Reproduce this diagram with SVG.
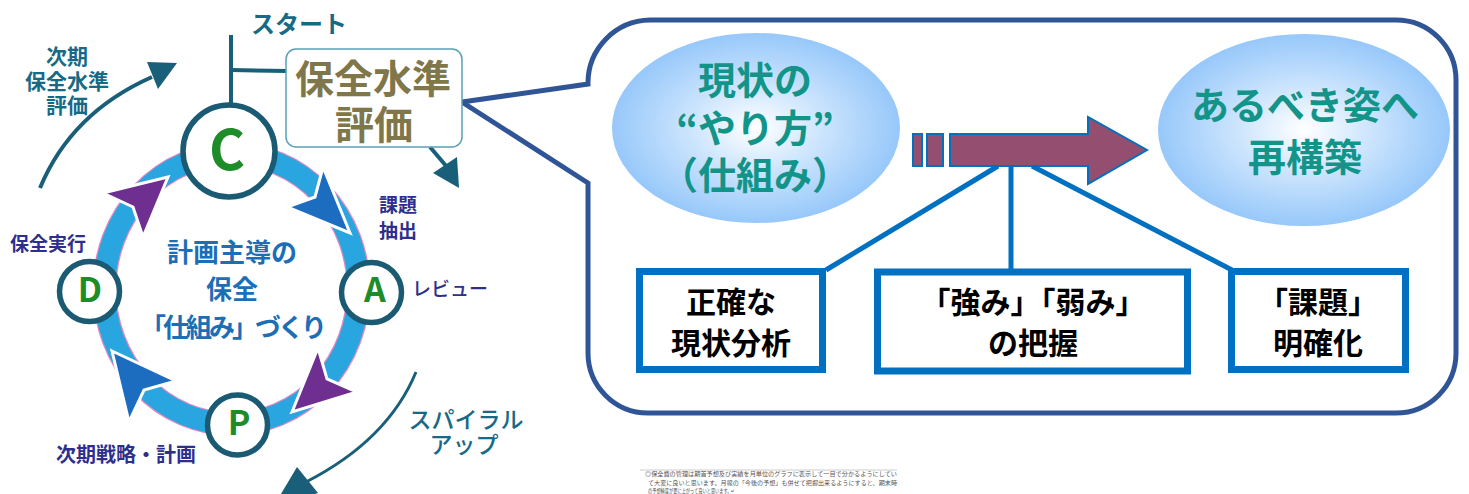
<svg xmlns="http://www.w3.org/2000/svg" width="1469" height="494" viewBox="0 0 1469 494">
<defs>
<radialGradient id="eg" cx="50%" cy="50%" r="50%">
<stop offset="0" stop-color="#ffffff"/>
<stop offset="0.45" stop-color="#cde5fd"/>
<stop offset="1" stop-color="#97c8fa"/>
</radialGradient>
<style>
text{font-family:"Noto Sans CJK JP","Noto Sans",sans-serif;}
.teal{fill:#176a85;font-weight:700;text-anchor:middle}
.navy{fill:#2e2f8c;font-weight:700}
.ctr{fill:#1c6eb6;font-weight:700;font-size:26px;text-anchor:middle}
.lt{fill:#1f8c2a;font-weight:700;text-anchor:middle}
.pc{fill:#fff;stroke:#1a5a73;stroke-width:5.5}
.ell{fill:#139488;font-weight:700;font-size:38px;text-anchor:middle}
.bx{fill:#fff;stroke:#0070c0;stroke-width:7}
.bt{fill:#000;font-weight:700;font-size:30px;text-anchor:middle}
.con{stroke:#0070c0;stroke-width:5;fill:none}
.dk{stroke:#1a5f7a;fill:none}
.dkf{fill:#1a5f7a}
.ah{stroke:#fff;stroke-width:3;stroke-linejoin:miter}
.arw{fill:#944e6f;stroke:#0070c0;stroke-width:2}
.note{fill:#555;font-size:6px}
</style>
</defs>
<rect width="1469" height="494" fill="#fff"/>

<g id="callout">
<path d="M650,20 H1396 A60,60 0 0 1 1456,80 V353 A60,60 0 0 1 1396,413 H648 A60,60 0 0 1 588,353 V183 L462,102 L588,84 A63,63 0 0 1 650,20 Z" fill="none" stroke="#2f5597" stroke-width="5" stroke-linejoin="miter"/>
</g>

<g id="connectors">
<line class="con" x1="998" y1="166" x2="826" y2="270"/>
<line class="con" x1="1011" y1="166" x2="1011" y2="270"/>
<line class="con" x1="1032" y1="166" x2="1232" y2="270"/>
<line class="dk" x1="231" y1="35" x2="231" y2="104" stroke-width="4"/>
<line class="dk" x1="231" y1="70" x2="287" y2="71" stroke-width="4"/>
<path class="dk" d="M40,188 C62,135 100,100 152,77" stroke-width="4"/>
<polygon class="dkf" points="177,63 147,62 158,89"/>
<line class="dk" x1="430" y1="147" x2="447" y2="167" stroke-width="4"/>
<polygon class="dkf" points="459,188 433,173 457,157"/>
<path class="dk" d="M416,372 Q388,440 306,482" stroke-width="3"/>
<polygon class="dkf" points="272,509 297,467 318,493"/>
</g>

<g id="ellipse-current">
<ellipse cx="756" cy="128" rx="144" ry="95" fill="url(#eg)"/>
<text class="ell" x="755" y="94">現状の</text>
<text class="ell" x="755" y="142">“やり方”</text>
<text class="ell" x="755" y="189">（仕組み）</text>
</g>

<g id="ellipse-ideal">
<ellipse cx="1304" cy="130" rx="146" ry="96" fill="url(#eg)"/>
<text class="ell" x="1305" y="119" font-size="40">あるべき姿へ</text>
<text class="ell" x="1305" y="171" font-size="40">再構築</text>
</g>

<g id="big-arrow">
<rect class="arw" x="913" y="134" width="9" height="32"/>
<rect class="arw" x="927" y="134" width="16" height="32"/>
<polygon class="arw" points="950,134 1088,134 1088,117 1147,150 1088,184 1088,166 950,166"/>
</g>

<g id="box1">
<rect class="bx" x="639.5" y="271.5" width="183" height="98"/>
<text class="bt" x="731" y="313">正確な</text>
<text class="bt" x="731" y="354">現状分析</text>
</g>
<g id="box2">
<rect class="bx" x="877.5" y="272" width="310" height="99"/>
<text class="bt" x="1033" y="313">「強み」「弱み」</text>
<text class="bt" x="1033" y="354">の把握</text>
</g>
<g id="box3">
<rect class="bx" x="1231.5" y="271.5" width="174" height="98"/>
<text class="bt" x="1318" y="313">「課題」</text>
<text class="bt" x="1318" y="354">明確化</text>
</g>

<g id="ring">
<ellipse cx="231.5" cy="289" rx="127" ry="135" fill="none" stroke="#e28ac0" stroke-width="24"/>
<ellipse cx="231.5" cy="289" rx="127" ry="135" fill="none" stroke="#29a6e0" stroke-width="21.5"/>
<polygon class="ah" fill="#6e2f91" points="168,177 103,193 133,207 143,237"/>
<polygon class="ah" fill="#1c6cbf" points="350,233 323,167 315,197 287,207"/>
<polygon class="ah" fill="#6e2f91" points="292,412 318,348 327,379 357,392"/>
<polygon class="ah" fill="#1c6cbf" points="112,351 176,381 144,390 129,422"/>
</g>

<g id="center-text">
<text class="ctr" x="232" y="262">計画主導の</text>
<text class="ctr" x="232" y="299">保全</text>
<text class="ctr" x="232" y="337" letter-spacing="-3">「仕組み」づくり</text>
</g>

<g id="node-C">
<circle class="pc" cx="229" cy="151" r="46"/>
<text class="lt" x="227" y="170" font-size="55">C</text>
</g>
<g id="node-D">
<circle class="pc" cx="89.5" cy="291.5" r="30"/>
<text class="lt" x="90" y="302" font-size="34">D</text>
</g>
<g id="node-A">
<circle class="pc" cx="371.5" cy="292.5" r="30"/>
<text class="lt" x="375" y="302" font-size="34">A</text>
</g>
<g id="node-P">
<circle class="pc" cx="237.5" cy="425" r="30"/>
<text class="lt" x="239" y="435" font-size="34">P</text>
</g>

<g id="eval-box">
<rect x="286" y="49" width="176" height="98" rx="10" fill="#fff" stroke="#5aa0b5" stroke-width="1.5"/>
<text x="373" y="93" font-size="39" font-weight="700" fill="#7f774a" text-anchor="middle">保全水準</text>
<text x="374" y="139" font-size="39" font-weight="700" fill="#7f774a" text-anchor="middle">評価</text>
</g>

<g id="labels">
<text class="teal" x="299" y="33" font-size="24">スタート</text>
<text class="teal" x="67" y="64" font-size="21">次期</text>
<text class="teal" x="67" y="89" font-size="21">保全水準</text>
<text class="teal" x="67" y="113" font-size="21">評価</text>
<text class="navy" x="398" y="212" font-size="19" text-anchor="middle">課題</text>
<text class="navy" x="398" y="238" font-size="19" text-anchor="middle">抽出</text>
<text class="navy" x="10" y="251" font-size="19">保全実行</text>
<text x="412" y="296" font-size="19" fill="#2e2f8c" font-weight="500">レビュー</text>
<text class="navy" x="196" y="462" font-size="20" text-anchor="end">次期戦略・計画</text>
<text x="466" y="428" font-size="23" fill="#176a85" font-weight="500" text-anchor="middle">スパイラル</text>
<text x="464" y="453" font-size="23" fill="#176a85" font-weight="500" text-anchor="middle">アップ</text>
</g>

<g id="note">
<line x1="640" y1="470" x2="897" y2="470" stroke="#ccc" stroke-width="1"/>
<text class="note" x="645" y="476" textLength="252" lengthAdjust="spacingAndGlyphs">◎保全費の管理は期首予想及び実績を月単位のグラフに表示して一目で分かるようにしてい</text>
<text class="note" x="648" y="485" textLength="249" lengthAdjust="spacingAndGlyphs">て大変に良いと思います。月報の「今後の予想」も併せて把握出来るようにすると、期末時</text>
<text class="note" x="648" y="493" textLength="87" lengthAdjust="spacingAndGlyphs">の予想精度が更に上がって良いと思います。↵</text>
</g>
</svg>
